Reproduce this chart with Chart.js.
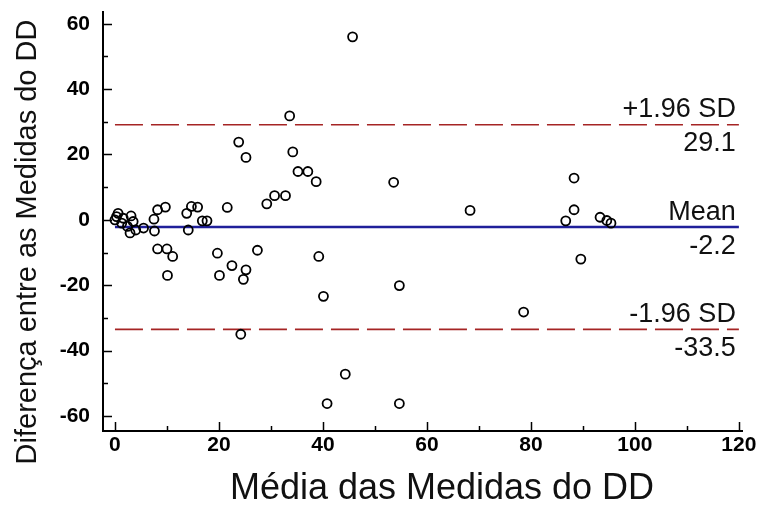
<!DOCTYPE html>
<html>
<head>
<meta charset="utf-8">
<script src="https://cdn.jsdelivr.net/npm/chart.js@4.4.1/dist/chart.umd.min.js"></script>
<style>
  html, body { margin: 0; padding: 0; background: #fff; }
</style>
</head>
<body>
<canvas id="baChart" width="763" height="506"></canvas>
<script>
// Bland-Altman: media das duas medidas (x) vs diferenca (y)
var meanX = [
    0, 0.3, 0.6, 1.3, 1.6, 2.4, 2.9, 3.1, 3.5, 4.0, 5.5, 7.5, 7.6,
    8.2, 9.7, 8.2, 10.0, 11.1, 10.1, 13.8, 14.7, 15.9, 14.1, 16.8, 17.7,
    19.7, 20.1, 21.6, 22.5, 24.7, 25.2, 27.4, 24.2, 23.8, 25.2, 29.2,
    30.7, 32.8, 33.6, 34.2, 35.2, 37.1, 38.7, 39.2, 40.1, 40.8, 44.3,
    45.7, 53.6, 54.7, 54.7, 68.3, 78.6, 86.7, 88.3, 88.3, 89.6, 93.3,
    94.6, 95.4
];
var diffY = [
    0, 1.0, 2.0, -1.0, 0.5, -2.0, -4.0, 1.2, -0.5, -3.1, -2.5, 0.2, -3.4,
    3.1, 3.9, -8.9, -8.9, -11.2, -17.0, 2.0, 4.1, 3.9, -3.1, -0.3, -0.3,
    -10.2, -17.0, 3.8, -14.0, -18.2, -15.3, -9.3, -35.0, 23.8, 19.1, 4.9,
    7.4, 7.4, 31.8, 20.8, 14.8, 14.8, 11.7, -11.2, -23.4, -56.2, -47.2,
    56.0, 11.5, -20.1, -56.2, 2.9, -28.2, -0.3, 3.1, 12.8, -12.0, 0.8,
    -0.2, -1.0
];

var xTicks = [0, 20, 40, 60, 80, 100, 120];
var yTicks = [-60, -40, -20, 0, 20, 40, 60];
var xMinor = [10, 30, 50, 70, 90, 110];
var yMinor = [-50, -30, -10, 10, 30, 50];

// linhas de referencia (media e limites de concordancia)
var refValues = [29.1, -2.2, -33.5];
var refNames = ['+1.96 SD', 'Mean', '-1.96 SD'];
var refText = ['29.1', '-2.2', '-33.5'];
var refSpan = [0, 120];

var xTitle = 'Média das Medidas do DD';
var yTitle = 'Diferença entre as Medidas do DD';

var FONT = '"Liberation Sans", Arial, sans-serif';

var points = [];
for (var i = 0; i < meanX.length; i++) {
    points.push({ x: meanX[i], y: diffY[i] });
}

function refLine(v) {
    return [{ x: refSpan[0], y: v }, { x: refSpan[1], y: v }];
}

// ticks pointing into the plot, like the original software
var innerTicks = {
    id: 'innerTicks',
    afterDraw: function (chart) {
        var ctx = chart.ctx;
        var xs = chart.scales.x, ys = chart.scales.y;
        var left = chart.chartArea.left, bottom = chart.chartArea.bottom;
        ctx.save();
        ctx.strokeStyle = '#000';
        ctx.lineWidth = 1.5;
        ctx.beginPath();
        xTicks.forEach(function (v) {
            var px = Math.round(xs.getPixelForValue(v)) + 0.5;
            ctx.moveTo(px, bottom); ctx.lineTo(px, bottom - 9);
        });
        xMinor.forEach(function (v) {
            var px = Math.round(xs.getPixelForValue(v)) + 0.5;
            ctx.moveTo(px, bottom); ctx.lineTo(px, bottom - 5);
        });
        yTicks.forEach(function (v) {
            var py = Math.round(ys.getPixelForValue(v)) + 0.5;
            ctx.moveTo(left, py); ctx.lineTo(left + 9, py);
        });
        yMinor.forEach(function (v) {
            var py = Math.round(ys.getPixelForValue(v)) + 0.5;
            ctx.moveTo(left, py); ctx.lineTo(left + 5, py);
        });
        ctx.stroke();
        ctx.restore();
    }
};

var refLabels = {
    id: 'refLabels',
    afterDatasetsDraw: function (chart) {
        var ctx = chart.ctx;
        var xs = chart.scales.x, ys = chart.scales.y;
        var right = xs.getPixelForValue(refSpan[1]) - 3;
        ctx.save();
        ctx.fillStyle = '#111';
        ctx.font = '27px ' + FONT;
        ctx.textAlign = 'right';
        ctx.textBaseline = 'middle';
        for (var k = 0; k < refValues.length; k++) {
            var py = ys.getPixelForValue(refValues[k]);
            ctx.fillText(refNames[k], right, py - 15);
            ctx.fillText(refText[k], right, py + 19);
        }
        ctx.restore();
    }
};

// axis titles, placed where the original had them
var axisTitles = {
    id: 'axisTitles',
    afterDraw: function (chart) {
        var ctx = chart.ctx;
        ctx.save();
        ctx.fillStyle = '#111';
        ctx.textAlign = 'center';
        ctx.textBaseline = 'middle';
        ctx.font = '36px ' + FONT;
        ctx.fillText(xTitle, 442, 489);
        ctx.translate(28, 242);
        ctx.rotate(-Math.PI / 2);
        ctx.font = '29px ' + FONT;
        ctx.fillText(yTitle, 0, 0);
        ctx.restore();
    }
};

new Chart(document.getElementById('baChart'), {
    type: 'scatter',
    data: {
        datasets: [{
            label: 'Diferença',
            data: points,
            pointStyle: 'circle',
            pointRadius: 4.5,
            pointHoverRadius: 4.5,
            borderColor: '#000',
            backgroundColor: 'rgba(255,255,255,0)',
            borderWidth: 1.8,
            order: 0
        }, {
            type: 'line',
            data: refLine(refValues[0]),
            borderColor: '#a52424',
            borderWidth: 1.6,
            borderDash: [28, 8],
            pointRadius: 0,
            order: 1
        }, {
            type: 'line',
            data: refLine(refValues[1]),
            borderColor: '#1f1f9a',
            borderWidth: 2.5,
            pointRadius: 0,
            order: 1
        }, {
            type: 'line',
            data: refLine(refValues[2]),
            borderColor: '#a52424',
            borderWidth: 1.6,
            borderDash: [28, 8],
            pointRadius: 0,
            order: 1
        }]
    },
    options: {
        responsive: false,
        animation: false,
        devicePixelRatio: 1,
        layout: { padding: { left: 0, top: 12, right: 21, bottom: 0 } },
        plugins: {
            legend: { display: false },
            tooltip: { enabled: false }
        },
        scales: {
            x: {
                type: 'linear',
                min: -2.3,
                max: 120.6,
                afterBuildTicks: function (scale) {
                    scale.ticks = xTicks.map(function (v) { return { value: v }; });
                },
                afterFit: function (scale) {
                    scale.height = 75;
                    scale.paddingLeft = 0;
                    scale.paddingRight = 0;
                },
                grid: { display: false, drawTicks: false },
                border: { display: true, color: '#000', width: 2 },
                ticks: {
                    color: '#000',
                    padding: 2,
                    maxRotation: 0,
                    font: { family: FONT, size: 21, weight: 'bold' }
                }
            },
            y: {
                type: 'linear',
                min: -64.6,
                max: 63.6,
                afterBuildTicks: function (scale) {
                    scale.ticks = yTicks.map(function (v) { return { value: v }; });
                },
                afterFit: function (scale) {
                    scale.width = 103;
                    scale.paddingTop = 0;
                    scale.paddingBottom = 0;
                },
                grid: { display: false, drawTicks: false },
                border: { display: true, color: '#000', width: 2 },
                ticks: {
                    color: '#000',
                    padding: 13,
                    font: { family: FONT, size: 21, weight: 'bold' }
                }
            }
        }
    },
    plugins: [innerTicks, refLabels, axisTitles]
});
</script>
</body>
</html>
